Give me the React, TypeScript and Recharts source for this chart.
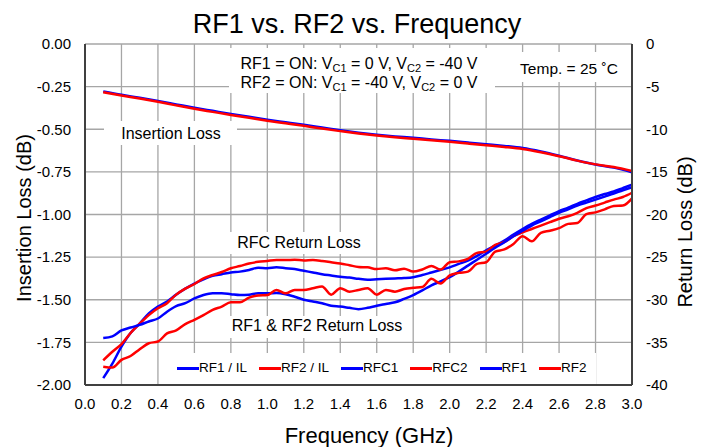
import { LineChart, Line, XAxis, YAxis, CartesianGrid } from 'recharts';

const FONT = '"Liberation Sans", Arial, sans-serif';

// insertion loss, 0.1 GHz steps
const freqIL = [0.1, 0.2, 0.3, 0.4, 0.5, 0.6, 0.7, 0.8, 0.9, 1.0, 1.1, 1.2, 1.3, 1.4, 1.5, 1.6, 1.7, 1.8, 1.9, 2.0, 2.1, 2.2, 2.3, 2.4, 2.5, 2.6, 2.7, 2.8, 2.9, 3.0];
const rf1IL = [-0.278, -0.298, -0.315, -0.334, -0.354, -0.374, -0.392, -0.41, -0.427, -0.444, -0.459, -0.474, -0.49, -0.506, -0.52, -0.532, -0.542, -0.55, -0.56, -0.568, -0.578, -0.588, -0.598, -0.61, -0.63, -0.655, -0.683, -0.707, -0.725, -0.752];
const rf2IL = [-0.283, -0.302, -0.32, -0.339, -0.36, -0.38, -0.398, -0.416, -0.433, -0.45, -0.465, -0.48, -0.496, -0.511, -0.525, -0.537, -0.547, -0.556, -0.565, -0.574, -0.584, -0.594, -0.604, -0.616, -0.635, -0.658, -0.684, -0.706, -0.722, -0.745];

// return loss (dB), 0.05 GHz steps
const freqRL = [0.1, 0.15, 0.2, 0.25, 0.3, 0.35, 0.4, 0.45, 0.5, 0.55, 0.6, 0.65, 0.7, 0.75, 0.8, 0.85, 0.9, 0.95, 1.0, 1.05, 1.1, 1.15, 1.2, 1.25, 1.3, 1.35, 1.4, 1.45, 1.5, 1.55, 1.6, 1.65, 1.7, 1.75, 1.8, 1.85, 1.9, 1.95, 2.0, 2.05, 2.1, 2.15, 2.2, 2.25, 2.3, 2.35, 2.4, 2.45, 2.5, 2.55, 2.6, 2.65, 2.7, 2.75, 2.8, 2.85, 2.9, 2.95, 3.0];
const rfc1RL = [-39.2, -37.5, -35.5, -33.9, -32.8, -31.6, -30.8, -30.2, -29.4, -28.7, -28.1, -27.6, -27.2, -27.0, -26.8, -26.7, -26.5, -26.25, -26.3, -26.2, -26.3, -26.4, -26.6, -26.8, -27.0, -27.15, -27.3, -27.4, -27.55, -27.65, -27.6, -27.55, -27.5, -27.45, -27.35, -27.1, -26.8, -26.5, -26.2, -25.8, -25.4, -24.85, -24.2, -23.65, -23.05, -22.35, -21.7, -21.1, -20.6, -20.1, -19.6, -19.2, -18.75, -18.35, -17.95, -17.6, -17.3, -16.9, -16.5];
const rfc2RL = [-37.1, -36.1, -35.2, -33.9, -32.8, -31.8, -31.0, -30.4, -29.4, -28.7, -28.15, -27.5, -27.1, -26.75, -26.3, -26.05, -25.75, -25.55, -25.45, -25.35, -25.35, -25.3, -25.4, -25.35, -25.45, -25.6, -25.75, -25.95, -26.15, -26.2, -26.4, -26.3, -26.55, -26.35, -26.7, -26.45, -26.05, -26.45, -25.6, -25.5, -25.2, -24.5, -24.35, -23.55, -23.25, -22.55, -22.1, -21.7, -21.3, -20.9, -20.5, -20.2, -19.8, -19.25, -18.95, -18.6, -18.25, -17.95, -17.45];
const rf1RL = [-34.5, -34.3, -33.6, -33.25, -32.95, -32.55, -32.2, -31.4, -30.75, -30.4, -29.85, -29.45, -29.25, -29.25, -29.35, -29.45, -29.4, -29.25, -29.25, -29.2, -29.35, -29.65, -30.0, -30.2, -30.4, -30.7, -30.8, -30.95, -31.1, -30.95, -30.7, -30.5, -30.3, -29.9, -29.45, -28.9, -28.3, -27.85, -27.35, -26.7, -26.0, -25.3, -24.6, -23.9, -23.25, -22.55, -21.9, -21.3, -20.8, -20.3, -19.8, -19.4, -18.95, -18.6, -18.25, -17.9, -17.55, -17.15, -16.8];
const rf2RL = [-37.85, -37.95, -37.05, -36.6, -35.8, -35.1, -34.9, -33.95, -33.6, -32.85, -32.35, -31.8, -31.2, -30.8, -30.3, -30.3, -29.75, -29.5, -29.45, -28.85, -29.25, -28.85, -28.85, -28.65, -28.45, -29.4, -28.65, -29.05, -28.85, -28.65, -29.4, -28.85, -29.05, -28.75, -28.6, -28.5, -27.55, -28.1, -27.15, -26.85, -26.7, -25.8, -25.6, -24.35, -24.1, -23.45, -22.55, -23.15, -22.15, -21.9, -21.6, -21.1, -21.0, -19.95, -19.75, -19.4, -19.0, -18.95, -18.1];

const xTicks = [0, 0.2, 0.4, 0.6, 0.8, 1.0, 1.2, 1.4, 1.6, 1.8, 2.0, 2.2, 2.4, 2.6, 2.8, 3.0];
const ilTicks = [0, -0.25, -0.5, -0.75, -1.0, -1.25, -1.5, -1.75, -2.0];
const rlTicks = [0, -5, -10, -15, -20, -25, -30, -35, -40];

const legendItems = [
  { name: 'RF1 / IL', color: '#0000ff' },
  { name: 'RF2 / IL', color: '#ff0000' },
  { name: 'RFC1', color: '#0000ff' },
  { name: 'RFC2', color: '#ff0000' },
  { name: 'RF1', color: '#0000ff' },
  { name: 'RF2', color: '#ff0000' },
];

const ilData = freqIL.map((f, i) => ({ f, rf1: rf1IL[i], rf2: rf2IL[i] }));
const rlData = freqRL.map((f, i) => ({ f, rfc1: rfc1RL[i], rfc2: rfc2RL[i], rf1: rf1RL[i], rf2: rf2RL[i] }));

const tickStyle = { fill: '#000', fontSize: 15, fontFamily: FONT };
const axisLine = { stroke: '#404040', strokeWidth: 2 };

function Sub({ children }: { children: string }) {
  return (
    <tspan fontSize={11} dy={3}>
      {children}
    </tspan>
  );
}

export default function App() {
  return (
    <div style={{ position: 'absolute', left: 0, top: 0, width: 706, height: 447, background: '#fff', fontFamily: FONT }}>
      <LineChart width={706} height={447} margin={{ top: 44, right: 0, bottom: 32, left: 0 }}>
        <CartesianGrid yAxisId="il" stroke="#a6a6a6" strokeWidth={1.3} verticalPoints={undefined} />
        <XAxis
          type="number"
          dataKey="f"
          domain={[0, 3]}
          ticks={xTicks}
          tickFormatter={(v: number) => v.toFixed(1)}
          height={30}
          tickSize={0}
          tickMargin={13}
          axisLine={axisLine}
          tick={tickStyle}
          interval={0}
        />
        <YAxis
          yAxisId="il"
          orientation="left"
          domain={[-2, 0]}
          ticks={ilTicks}
          tickFormatter={(v: number) => v.toFixed(2)}
          width={85}
          tickSize={0}
          tickMargin={14}
          axisLine={axisLine}
          tick={tickStyle}
          interval={0}
        />
        <YAxis
          yAxisId="rl"
          orientation="right"
          domain={[-40, 0]}
          ticks={rlTicks}
          width={74}
          tickSize={0}
          tickMargin={14}
          axisLine={axisLine}
          tick={tickStyle}
          interval={0}
        />
        <Line data={ilData} yAxisId="il" dataKey="rf1" type="monotone" stroke="#0000ff" strokeWidth={2.5} dot={false} isAnimationActive={false} />
        <Line data={ilData} yAxisId="il" dataKey="rf2" type="monotone" stroke="#ff0000" strokeWidth={2.5} dot={false} isAnimationActive={false} />
        <Line data={rlData} yAxisId="rl" dataKey="rfc1" type="monotone" stroke="#0000ff" strokeWidth={2.5} dot={false} isAnimationActive={false} />
        <Line data={rlData} yAxisId="rl" dataKey="rfc2" type="monotone" stroke="#ff0000" strokeWidth={2.5} dot={false} isAnimationActive={false} />
        <Line data={rlData} yAxisId="rl" dataKey="rf1" type="monotone" stroke="#0000ff" strokeWidth={2.5} dot={false} isAnimationActive={false} />
        <Line data={rlData} yAxisId="rl" dataKey="rf2" type="monotone" stroke="#ff0000" strokeWidth={2.5} dot={false} isAnimationActive={false} />
      </LineChart>

      <svg width={706} height={447} style={{ position: 'absolute', left: 0, top: 0, pointerEvents: 'none' }} fontFamily={FONT}>
        <text x={357} y={33} textAnchor="middle" fontSize={27}>RF1 vs. RF2 vs. Frequency</text>

        <text x={31} y={218} textAnchor="middle" fontSize={20} transform="rotate(-90 31 218)">Insertion Loss (dB)</text>
        <text x={692} y={232} textAnchor="middle" fontSize={20} transform="rotate(-90 692 232)">Return Loss (dB)</text>
        <text x={369} y={443} textAnchor="middle" fontSize={22}>Frequency (GHz)</text>

        <rect x={229} y={48} width={266} height={45} fill="#fff" />
        <text x={359} y={69} textAnchor="middle" fontSize={16}>
          RF1 = ON: V<Sub>C1</Sub>
          <tspan dy={-3}> = 0 V, V</tspan>
          <Sub>C2</Sub>
          <tspan dy={-3}> = -40 V</tspan>
        </text>
        <text x={359} y={88} textAnchor="middle" fontSize={16}>
          RF2 = ON: V<Sub>C1</Sub>
          <tspan dy={-3}> = -40 V, V</tspan>
          <Sub>C2</Sub>
          <tspan dy={-3}> = 0 V</tspan>
        </text>

        <rect x={508} y={52} width={119} height={30} fill="#fff" />
        <text x={569} y={74} textAnchor="middle" fontSize={15.5}>Temp. = 25 ˚C</text>

        <rect x={104} y={121} width={133} height={24} fill="#fff" />
        <text x={171} y={139} textAnchor="middle" fontSize={16}>Insertion Loss</text>

        <rect x={228} y={232} width={142} height={22} fill="#fff" />
        <text x={299} y={248} textAnchor="middle" fontSize={16}>RFC Return Loss</text>

        <rect x={222} y={316} width={190} height={22} fill="#fff" />
        <text x={317} y={331} textAnchor="middle" fontSize={16}>RF1 &amp; RF2 Return Loss</text>

        <rect x={170} y={353} width={426} height={31} fill="#fff" />
      </svg>

      <div style={{ position: 'absolute', left: 177, top: 360, height: 16, display: 'flex', alignItems: 'center', gap: 12, fontSize: 13.5, lineHeight: '16px' }}>
        {legendItems.map((it) => (
          <div key={it.name} style={{ display: 'flex', alignItems: 'center' }}>
            <span style={{ display: 'inline-block', width: 22, height: 3, background: it.color }} />
            <span>{it.name}</span>
          </div>
        ))}
      </div>
    </div>
  );
}
